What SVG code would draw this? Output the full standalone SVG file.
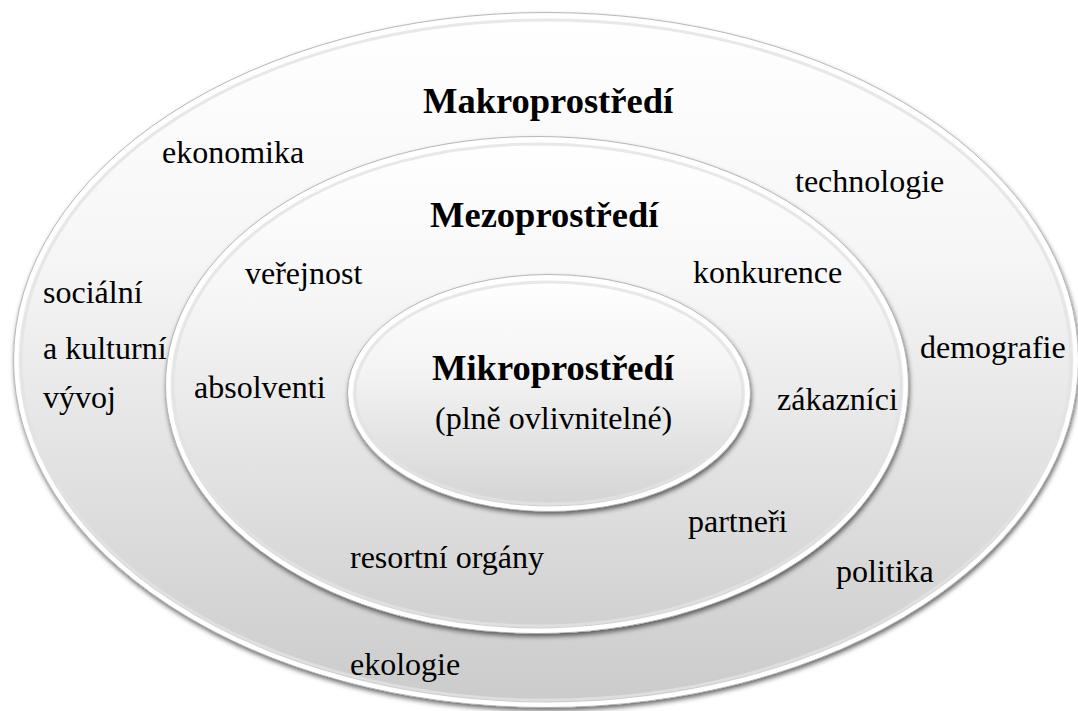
<svg xmlns="http://www.w3.org/2000/svg" width="1078" height="711" viewBox="0 0 1078 711">
<defs>
<linearGradient id="gOuter" x1="0" y1="0" x2="0" y2="1">
<stop offset="0" stop-color="#ffffff"/>
<stop offset="0.35" stop-color="#f6f6f6"/>
<stop offset="1" stop-color="#cbcbcb"/>
</linearGradient>
<linearGradient id="gMid" x1="0" y1="0" x2="0" y2="1">
<stop offset="0" stop-color="#ffffff"/>
<stop offset="0.3" stop-color="#f7f7f7"/>
<stop offset="1" stop-color="#d0d0d0"/>
</linearGradient>
<linearGradient id="gIn" x1="0" y1="0" x2="0" y2="1">
<stop offset="0" stop-color="#ffffff"/>
<stop offset="0.4" stop-color="#f4f4f4"/>
<stop offset="1" stop-color="#d3d3d3"/>
</linearGradient>
<filter id="shadow" x="-5%" y="-5%" width="110%" height="112%">
<feGaussianBlur in="SourceAlpha" stdDeviation="2.5" result="b"/>
<feOffset in="b" dx="1" dy="3" result="o"/>
<feFlood flood-color="#000000" flood-opacity="0.6"/>
<feComposite in2="o" operator="in" result="s"/>
<feMerge><feMergeNode in="s"/><feMergeNode in="SourceGraphic"/></feMerge>
</filter>
</defs>
<style>
.ring{stroke:#ffffff;stroke-width:5;filter:url(#shadow)}
.edge{fill:none;stroke:#9a9a9a;stroke-width:1;opacity:0.7}
.inner{fill:none;stroke:#e2e2e2;stroke-width:3;opacity:0.8}
.t{font-family:"Liberation Serif","Times New Roman",serif;font-size:32px;fill:#000000}
.h{font-family:"Liberation Serif","Times New Roman",serif;font-size:36.5px;font-weight:bold;fill:#000000}
</style>
<rect x="0" y="0" width="1078" height="711" fill="#ffffff"/>
<g id="makro">
<ellipse class="ring" cx="546" cy="360" rx="530" ry="345" fill="url(#gOuter)"/>
<ellipse class="edge" cx="546" cy="360" rx="532.5" ry="347.5"/>
<ellipse class="inner" cx="546" cy="360" rx="525" ry="340"/>
<text class="h" x="423" y="113">Makroprostředí</text>
<text class="t" x="162" y="163">ekonomika</text>
<text class="t" x="795" y="192">technologie</text>
<text class="t" x="43" y="303">sociální</text>
<text class="t" x="43" y="359">a kulturní</text>
<text class="t" x="43" y="408">vývoj</text>
<text class="t" x="920" y="358">demografie</text>
<text class="t" x="836" y="582">politika</text>
<text class="t" x="350" y="675">ekologie</text>
</g>
<g id="mezo">
<ellipse class="ring" cx="537" cy="385" rx="369" ry="246" fill="url(#gMid)"/>
<ellipse class="edge" cx="537" cy="385" rx="371.5" ry="248.5"/>
<ellipse class="inner" cx="537" cy="385" rx="364" ry="241"/>
<text class="h" x="430" y="227">Mezoprostředí</text>
<text class="t" x="245" y="284">veřejnost</text>
<text class="t" x="693" y="283">konkurence</text>
<text class="t" x="194" y="398">absolventi</text>
<text class="t" x="777" y="410">zákazníci</text>
<text class="t" x="688" y="532">partneři</text>
<text class="t" x="350" y="568">resortní orgány</text>
</g>
<g id="mikro">
<ellipse class="ring" cx="549" cy="393" rx="199" ry="116" fill="url(#gIn)"/>
<ellipse class="edge" cx="549" cy="393" rx="201.5" ry="118.5"/>
<ellipse class="inner" cx="549" cy="393" rx="194" ry="111"/>
<text class="h" x="432" y="380">Mikroprostředí</text>
<text class="t" x="435" y="429">(plně ovlivnitelné)</text>
</g>
</svg>
